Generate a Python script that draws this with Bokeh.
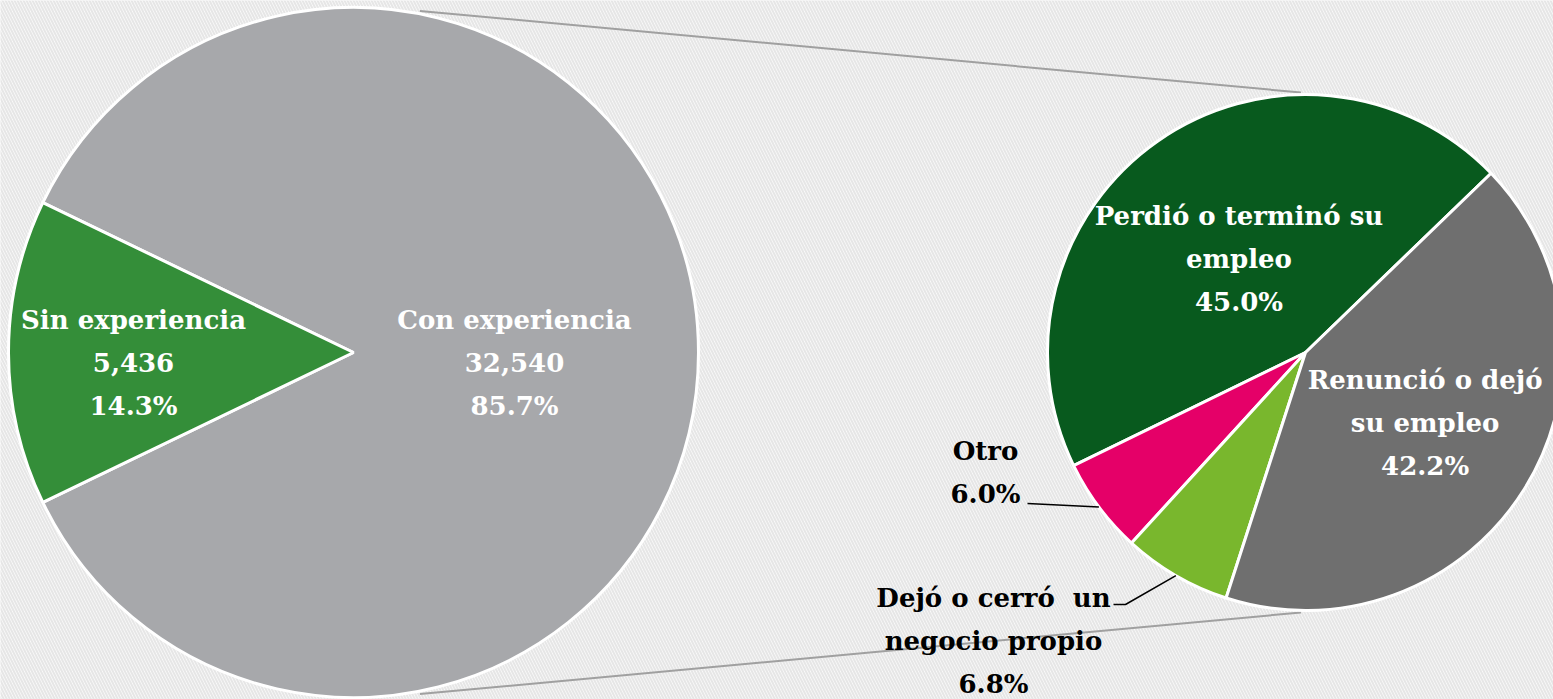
import math
from bokeh.plotting import figure
from bokeh.models import Range1d, ColumnDataSource
from bokeh.core.properties import value
from bokeh.embed import file_html
from bokeh.resources import INLINE

# ---- data ----
left_labels = ["Con experiencia", "Sin experiencia"]
left_values = [32540, 5436]
left_pct = ["85.7%", "14.3%"]
left_colors = ["#a7a8ab", "#348e39"]

right_labels = ["Perdió o terminó su\nempleo", "Otro", "Dejó o cerró\u00a0 un\nnegocio propio", "Renunció o dejó\nsu empleo"]
right_values = [45.0, 6.0, 6.8, 42.2]
right_colors = ["#085a1e", "#e50068", "#79b72d", "#6f6f6f"]

W, H = 1553, 699
FONT = "DejaVu Serif"
FS = 26
LH = 43

def sy(y):  # screen y -> data y
    return H - y

p = figure(width=W, height=H, output_backend="svg", toolbar_location=None,
           x_range=Range1d(0, W), y_range=Range1d(0, H), min_border=0)
p.axis.visible = False
p.grid.visible = False
p.outline_line_color = None
p.background_fill_color = "#f9f9f9"
p.border_fill_color = "#f9f9f9"

# hatched background
p.quad(left=[-10], right=[W + 10], bottom=[-10], top=[H + 10], fill_color="#fbfbfb",
       line_color=None, hatch_pattern="\\", hatch_color="#e6e6e6", hatch_scale=6, hatch_weight=2)

# ---- geometry ----
LCX, LCY, LR = 353, sy(352), 345
RCX, RCY, RR = 1305, sy(352), 258

def pt(cx, cy, r, a):
    return cx + r * math.cos(math.radians(a)), cy + r * math.sin(math.radians(a))

# connectors
for la, ra in [(79, 91), (-79, -91)]:
    x0, y0 = pt(LCX, LCY, LR + 3, la)
    x1, y1 = pt(RCX, RCY, RR + 2, ra)
    p.line([x0, x1], [y0, y1], line_color="#a0a0a0", line_width=2)

# left pie
ltot = sum(left_values)
sin_half = left_values[1] / ltot * math.pi
lstarts = [math.pi + sin_half, math.pi - sin_half]
lends = [math.pi - sin_half + 2 * math.pi, math.pi + sin_half]
src_l = ColumnDataSource(dict(start=lstarts, end=lends, color=left_colors))
p.wedge(x=LCX, y=LCY, radius=LR, start_angle="start", end_angle="end",
        fill_color="color", line_color="white", line_width=3, source=src_l)

# right pie
rtot = sum(right_values)
acc = math.radians(44)
rstarts, rends, rmids = [], [], []
for v in right_values:
    s = acc
    e = acc + v / rtot * 2 * math.pi
    rstarts.append(s); rends.append(e); rmids.append((s + e) / 2)
    acc = e
src_r = ColumnDataSource(dict(start=rstarts, end=rends, color=right_colors))
p.wedge(x=RCX, y=RCY, radius=RR, start_angle="start", end_angle="end",
        fill_color="color", line_color="white", line_width=3, source=src_r)

def put_lines(lines, cx, cy, color):
    n = len(lines)
    for i, t in enumerate(lines):
        yy = cy + (n - 1) / 2 * LH - i * LH
        p.text(x=[cx], y=[yy], text=[t], text_align="center", text_baseline="middle",
               text_color=color, text_font=value(FONT), text_font_style="bold",
               text_font_size=f"{FS}px")

# left labels
lmids = [0.0, math.pi]
lrad = [161, 220]
for i in range(2):
    cx = LCX + lrad[i] * math.cos(lmids[i])
    cy = LCY + lrad[i] * math.sin(lmids[i]) - 10
    lines = [left_labels[i], f"{left_values[i]:,}", left_pct[i]]
    put_lines(lines, cx, cy, "white")

# right inside labels
inside = {0: (116, -2), 3: (141, 4)}
for i, (r, dy) in inside.items():
    cx = RCX + r * math.cos(rmids[i])
    cy = RCY + r * math.sin(rmids[i]) + dy
    lines = right_labels[i].split("\n") + [f"{right_values[i]:.1f}%"]
    put_lines(lines, cx, cy, "white")

# outside labels with leaders
ex, ey = pt(RCX, RCY, RR, math.degrees(rmids[1]))
p.line([1027, ex], [sy(503), ey], line_color="black", line_width=1.5)
put_lines(["Otro", f"{right_values[1]:.1f}%"], 985, sy(472), "black")

ex, ey = pt(RCX, RCY, RR, math.degrees(rmids[2]))
p.line([1113, 1125, ex], [sy(604), sy(604), ey], line_color="black", line_width=1.5)
put_lines(right_labels[2].split("\n") + [f"{right_values[2]:.1f}%"], 993, sy(640), "black")

open("out.html", "w").write(file_html(p, INLINE))
